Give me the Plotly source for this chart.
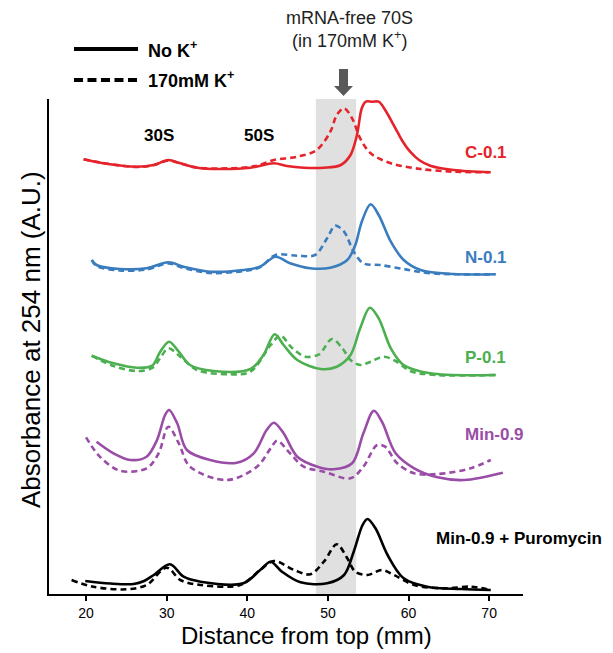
import plotly.graph_objects as go

# ---------------- data (distance in mm, absorbance in arbitrary units) ----------------
c_solid_x = [19.7, 22.1, 26.3, 28.4, 30.2, 31.7, 33.75, 36.6, 40.4, 43.3, 44.9, 47.0, 49.5, 51.6, 52.8, 53.6, 54.2, 54.7, 55.5, 56.3, 57.1, 58.6, 59.4, 60.2, 61.3, 62.7, 65.6, 70.2]
c_solid_y = [434.7, 430.7, 427.3, 429, 434, 430.7, 426.3, 425, 426.3, 430.7, 428, 426.3, 426.3, 429, 439, 459, 485.7, 492.3, 492.3, 492.3, 484, 462.3, 451, 442.3, 434, 428.3, 424, 421.7]
c_dash_x = [19.7, 22.1, 26.3, 28.4, 30.2, 31.7, 33.75, 36.6, 40.4, 41.5, 43.3, 46.2, 48.6, 50.3, 51.1, 52.0, 53.0, 54.0, 55.3, 57.8, 61.5, 65.6, 70.0]
c_dash_y = [434.7, 431, 427, 429, 433.5, 430.5, 426.5, 425.5, 427, 429, 434, 437.3, 444, 462.3, 479, 485.7, 475.7, 455.7, 440.7, 430.7, 425, 422.3, 421.7]

n_solid_x = [20.7, 21.3, 24.2, 27.5, 30.2, 32.1, 35.4, 39.5, 41.6, 43.5, 45.3, 47.8, 50.3, 52.4, 53.4, 54.2, 55.3, 56.3, 57.8, 59.4, 61.5, 65.6, 70.8]
n_solid_y = [334, 329, 325, 325.7, 331.7, 327.3, 322.3, 324, 327.3, 337.3, 330.7, 325.7, 326.3, 334, 349, 372.3, 389.7, 379, 352.3, 334, 324, 320, 319.7]
n_dash_x = [20.7, 21.3, 24.2, 27.5, 30.2, 32.1, 35.4, 39.5, 41.6, 43.5, 46.2, 48.4, 49.9, 50.9, 52.0, 53.2, 54.4, 56.5, 59.4, 62.7, 70.8]
n_dash_y = [334, 328, 323.5, 324.5, 330.5, 326, 321, 323, 327, 339, 338.3, 339, 355.7, 368.3, 362.3, 342.3, 330.7, 329, 325, 320.7, 319.7]

p_solid_x = [20.7, 23.4, 26.3, 28.2, 29.2, 30.3, 31.5, 32.9, 35.8, 40.4, 42.0, 43.4, 44.5, 46.2, 49.1, 51.1, 52.8, 54.0, 55.2, 56.3, 57.8, 59.4, 62.7, 70.8]
p_solid_y = [238.3, 230.7, 226.3, 228.3, 242.3, 252.3, 242.3, 229, 223, 225, 239, 259.7, 249, 234, 225, 227.3, 239, 265.7, 286.3, 275.7, 245.7, 229, 220.7, 219]
p_dash_x = [20.7, 23.4, 26.3, 28.2, 29.2, 30.2, 31.7, 33.75, 37.9, 40.4, 42.9, 44.1, 45.6, 47.2, 48.9, 50.5, 51.8, 52.8, 54.0, 55.3, 56.9, 58.4, 60.2, 63.6, 70.8]
p_dash_y = [238.3, 228, 223, 226, 236, 245.7, 237.3, 224, 219.7, 222.3, 249, 258.3, 245.7, 237.3, 239.7, 255, 245.7, 234, 229, 232.3, 237.3, 233, 223, 219, 219]

m_solid_x = [21.3, 23.4, 25.5, 27.5, 28.8, 29.8, 30.3, 31.3, 32.5, 35.4, 38.7, 40.8, 42.4, 43.3, 44.5, 46.2, 48.7, 50.7, 53.0, 54.4, 55.7, 56.7, 58.4, 60.7, 63.6, 66.9, 71.7]
m_solid_y = [152.3, 140.7, 134, 137.3, 154, 179, 184, 170.7, 144, 134, 131.3, 140.7, 164, 171.3, 160.7, 137.3, 127.3, 124.7, 130.7, 160.7, 183.3, 172.3, 140.7, 125.7, 116.7, 114, 121.3]
m_dash_x = [20.0, 21.7, 24.2, 27.5, 29.0, 30.2, 31.5, 32.9, 37.5, 41.2, 42.9, 43.7, 45.3, 47.0, 49.5, 52.8, 54.4, 56.1, 57.1, 58.6, 60.7, 63.6, 67.7, 70.2]
m_dash_y = [156.7, 137.3, 123.3, 125.7, 140.7, 167.3, 150.7, 127.3, 114, 127.3, 145.7, 153.3, 140.7, 127.3, 122.3, 115.7, 127.3, 149, 147.3, 130.7, 120.7, 120, 125.7, 134]

k_solid_x = [19.9, 23.0, 25.9, 27.2, 28.4, 30.4, 32.1, 34.2, 39.5, 41.6, 42.9, 44.3, 46.6, 49.9, 52.0, 53.2, 54.3, 54.9, 55.9, 57.4, 59.4, 62.3, 66.5, 70.2]
k_solid_y = [13, 10.5, 10, 13, 19, 29.7, 17.3, 12.3, 10.7, 24, 32.3, 22.3, 11.7, 10.7, 19, 42.3, 69, 75, 65.7, 39, 15.7, 7.3, 5, 4]
k_dash_x = [18.2, 20.9, 25.0, 27.5, 30.0, 31.7, 34.2, 39.1, 41.6, 43.3, 45.8, 47.8, 49.5, 51.1, 52.4, 53.4, 54.9, 56.7, 58.2, 60.7, 64.4, 67.7, 70.2]
k_dash_y = [14, 7.3, 4.7, 9, 26.3, 14, 9, 9, 24, 33, 24, 19.7, 32.3, 49.7, 35.7, 22.3, 19, 24, 19, 9, 5.7, 7.3, 4]

sample_names = ["C-0.1", "N-0.1", "P-0.1", "Min-0.9", "Min-0.9 + Puromycin"]
sample_colors = ["#E5232B", "#3A7DBF", "#4CAF50", "#9A4DA6", "#000000"]
label_x = [66.7, 66.7, 66.7, 66.7, 63.1]
label_y = [442, 337, 237, 160, 56]

band_range = [48.5, 53.5]
peak_labels = ["30S", "50S"]
peak_label_x = [29.1, 41.5]
peak_label_y = 459

x_ticks = [20, 30, 40, 50, 60, 70]

FONT = "Liberation Sans, Arial, Helvetica, sans-serif"

curves = [
    (c_solid_x, c_solid_y, c_dash_x, c_dash_y),
    (n_solid_x, n_solid_y, n_dash_x, n_dash_y),
    (p_solid_x, p_solid_y, p_dash_x, p_dash_y),
    (m_solid_x, m_solid_y, m_dash_x, m_dash_y),
    (k_solid_x, k_solid_y, k_dash_x, k_dash_y),
]

fig = go.Figure()
for (sx, sy, dx, dy), name, col in zip(curves, sample_names, sample_colors):
    fig.add_trace(go.Scatter(x=dx, y=dy, mode="lines", name=name + " 170mM K+",
                             line=dict(color=col, width=2.6, dash="6px,4px", shape="spline", smoothing=0.95),
                             showlegend=False))
    fig.add_trace(go.Scatter(x=sx, y=sy, mode="lines", name=name + " No K+",
                             line=dict(color=col, width=2.6, shape="spline", smoothing=0.95),
                             showlegend=False))

shapes = []
# shaded region
shapes.append(dict(type="rect", xref="x", yref="paper", x0=band_range[0], x1=band_range[1], y0=0, y1=1,
                   fillcolor="#E0E0E0", line=dict(width=0), layer="below"))
# block arrow (paper coords)
ax = 0.6213
shapes.append(dict(type="path", xref="paper", yref="paper",
                   path=(f"M {ax-0.0095},1.0606 L {ax+0.0095},1.0606 L {ax+0.0095},1.0263 "
                         f"L {ax+0.02},1.0263 L {ax},1.0061 L {ax-0.02},1.0263 L {ax-0.0095},1.0263 Z"),
                   fillcolor="#595959", line=dict(width=0)))
# legend lines
shapes.append(dict(type="line", xref="paper", yref="paper", x0=0.0527, x1=0.1878, y0=1.101, y1=1.101,
                   line=dict(color="black", width=4)))
shapes.append(dict(type="line", xref="paper", yref="paper", x0=0.0527, x1=0.1878, y0=1.0384, y1=1.0384,
                   line=dict(color="black", width=4, dash="9px,4.5px")))

ann = []
ann.append(dict(xref="paper", yref="paper", x=0.204, y=1.101, text="<b>No K<sup>+</sup></b>", showarrow=False,
                xanchor="left", yanchor="middle", font=dict(size=18, color="black", family=FONT)))
ann.append(dict(xref="paper", yref="paper", x=0.204, y=1.0384, text="<b>170mM K<sup>+</sup></b>", showarrow=False,
                xanchor="left", yanchor="middle", font=dict(size=18, color="black", family=FONT)))
ann.append(dict(xref="paper", yref="paper", x=0.634, y=1.163, text="mRNA-free 70S", showarrow=False,
                xanchor="center", yanchor="middle", font=dict(size=18, color="#222222", family=FONT)))
ann.append(dict(xref="paper", yref="paper", x=0.634, y=1.1206, text="(in 170mM K<sup>+</sup>)", showarrow=False,
                xanchor="center", yanchor="middle", font=dict(size=18, color="#222222", family=FONT)))
for name, col, lx, ly in zip(sample_names, sample_colors, label_x, label_y):
    ann.append(dict(xref="x", yref="y", x=lx, y=ly, text=f"<b>{name}</b>", showarrow=False,
                    xanchor="left", yanchor="middle", font=dict(size=17, color=col, family=FONT)))
for t, px in zip(peak_labels, peak_label_x):
    ann.append(dict(xref="x", yref="y", x=px, y=peak_label_y, text=f"<b>{t}</b>", showarrow=False,
                    xanchor="center", yanchor="middle", font=dict(size=17, color="black", family=FONT)))
# axis titles
ann.append(dict(xref="paper", yref="paper", x=0.544, y=-0.083, text="Distance from top (mm)", showarrow=False,
                xanchor="center", yanchor="middle", font=dict(size=24, color="black", family=FONT)))
ann.append(dict(xref="paper", yref="paper", x=-0.038, y=0.515, text="Absorbance at 254 nm (A.U.)", showarrow=False,
                textangle=-90, xanchor="center", yanchor="middle", font=dict(size=26, color="black", family=FONT)))

fig.update_layout(
    width=613, height=653,
    margin=dict(l=49, r=90, t=99, b=59),
    paper_bgcolor="white", plot_bgcolor="white",
    shapes=shapes, annotations=ann,
    font=dict(family=FONT, color="black"),
    xaxis=dict(range=[15.4, 74.2], tickvals=x_ticks, ticks="outside", ticklen=5, tickwidth=1.5,
               tickcolor="black", showline=True, linecolor="black", linewidth=2, showgrid=False,
               zeroline=False, tickfont=dict(size=14, family=FONT, color="black")),
    yaxis=dict(range=[0, 495], showticklabels=False, ticks="", showline=True, linecolor="black",
               linewidth=2, showgrid=False, zeroline=False),
)

fig.write_html("out.html")
